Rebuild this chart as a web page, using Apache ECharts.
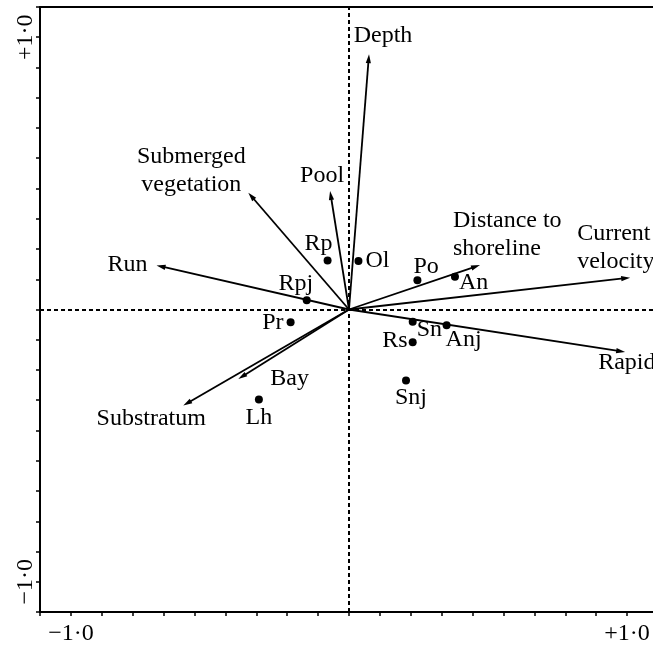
<!DOCTYPE html>
<html>
<head>
<meta charset="utf-8">
<script src="https://cdn.jsdelivr.net/npm/echarts@6/dist/echarts.min.js"></script>
<style>
html,body{margin:0;padding:0;background:#fff;}
#chart{width:653px;height:645px;}
</style>
</head>
<body>
<div id="chart"></div>
<script>
// ---- data ----
const axisMin = -10 / 9;
const axisMax = 10 / 9;
const tickStep = 1 / 9;
const tickLabelValues = [-1, 1];
const tickLabelTexts = ['\u22121\u00b70', '+1\u00b70'];

const vectorNames = ['Depth', 'Pool', 'Submerged\nvegetation', 'Run', 'Distance to\nshoreline',
  'Current\nvelocity', 'Rapid', 'Substratum', 'Bay'];
const vectorX = [0.072, -0.068, -0.362, -0.692, 0.471, 1.011, 0.993, -0.596, -0.398];
const vectorY = [0.938, 0.435, 0.429, 0.162, 0.163, 0.117, -0.156, -0.353, -0.255];

const siteNames = ['Rp', 'Ol', 'Rpj', 'Pr', 'Lh', 'Po', 'An', 'Sn', 'Anj', 'Rs', 'Snj'];
const siteX = [-0.077, 0.034, -0.152, -0.210, -0.324, 0.246, 0.381, 0.229, 0.351, 0.229, 0.205];
const siteY = [0.180, 0.178, 0.034, -0.047, -0.331, 0.107, 0.120, -0.045, -0.058, -0.120, -0.261];

// ---- label placement styles (pixel offsets from mark, alignment) ----
const vectorLabelStyle = {
  'Depth': [14, -18, 'center'],
  'Pool': [-8, -15, 'center'],
  'Submerged\nvegetation': [-57, -22, 'center'],
  'Run': [-9, -1, 'right'],
  'Distance to\nshoreline': [-27, -30, 'left'],
  'Current\nvelocity': [-53, -30, 'left'],
  'Rapid': [-27, 11, 'left'],
  'Substratum': [-32, 13, 'center'],
  'Bay': [32, 0, 'left']
};
const siteLabelStyle = {
  'Rp': [-9, -17, 'center'],
  'Ol': [7, 0, 'left'],
  'Rpj': [-11, -17, 'center'],
  'Pr': [-7, 0, 'right'],
  'Lh': [0, 18, 'center'],
  'Po': [-4, -14, 'left'],
  'An': [4, 6, 'left'],
  'Sn': [4, 8, 'left'],
  'Anj': [-1, 14, 'left'],
  'Rs': [-5, -1, 'right'],
  'Snj': [-11, 17, 'left']
};

const FONT = 'Liberation Serif, Times New Roman, serif';
const FS = 24;

const vectorData = vectorNames.map((n, i) => ({ name: n, value: [vectorX[i], vectorY[i]] }));
const siteData = siteNames.map((n, i) => ({ name: n, value: [siteX[i], siteY[i]] }));

function tickFmt(v) {
  for (let i = 0; i < tickLabelValues.length; i++) {
    if (Math.abs(v - tickLabelValues[i]) < 1e-6) return tickLabelTexts[i];
  }
  return '';
}

const chart = echarts.init(document.getElementById('chart'), null, { renderer: 'canvas' });

const option = {
  animation: false,
  backgroundColor: '#fff',
  grid: { left: 40, top: 7, width: 618, height: 605, containLabel: false, outerBoundsMode: 'none' },
  xAxis: [{
    type: 'value', min: axisMin, max: axisMax, interval: tickStep, position: 'bottom',
    axisLine: { show: true, onZero: false, lineStyle: { color: '#000', width: 2 } },
    axisTick: { show: true, length: 4, lineStyle: { color: '#000', width: 1.5 } },
    axisLabel: { show: true, interval: 0, formatter: tickFmt, color: '#000', fontFamily: FONT, fontSize: FS, margin: 10 },
    splitLine: { show: false }
  }, {
    type: 'value', min: axisMin, max: axisMax, position: 'top',
    axisLine: { show: true, onZero: false, lineStyle: { color: '#000', width: 2 } },
    axisTick: { show: false }, axisLabel: { show: false }, splitLine: { show: false }
  }],
  yAxis: [{
    type: 'value', min: axisMin, max: axisMax, interval: tickStep, position: 'left',
    axisLine: { show: true, onZero: false, lineStyle: { color: '#000', width: 2 } },
    axisTick: { show: true, length: 4, lineStyle: { color: '#000', width: 1.5 } },
    axisLabel: { show: true, interval: 0, rotate: 90, formatter: tickFmt, color: '#000', fontFamily: FONT, fontSize: FS, margin: 2 },
    splitLine: { show: false }
  }],
  series: [
    {
      type: 'scatter',
      data: siteData,
      symbol: 'circle',
      symbolSize: 8,
      itemStyle: { color: '#000', opacity: 1 },
      silent: true,
      markLine: {
        silent: true,
        symbol: ['none', 'none'],
        label: { show: false },
        lineStyle: { color: '#000', width: 2, type: [4, 3] },
        data: [{ xAxis: 0 }, { yAxis: 0 }]
      },
      z: 3
    },
    {
      type: 'custom',
      data: vectorData,
      silent: true,
      z: 4,
      renderItem: function (params, api) {
        const p0 = api.coord([0, 0]);
        const p1 = api.coord([api.value(0), api.value(1)]);
        const dx = p1[0] - p0[0], dy = p1[1] - p0[1];
        const len = Math.sqrt(dx * dx + dy * dy);
        const ux = dx / len, uy = dy / len;
        const hl = 9, hw = 2.6;
        const bx = p1[0] - ux * hl, by = p1[1] - uy * hl;
        const name = vectorData[params.dataIndex].name;
        const st = vectorLabelStyle[name];
        return {
          type: 'group',
          children: [
            { type: 'line', shape: { x1: p0[0], y1: p0[1], x2: bx + ux * 2, y2: by + uy * 2 },
              style: { stroke: '#000', lineWidth: 1.8 } },
            { type: 'polygon', shape: { points: [[p1[0], p1[1]], [bx - uy * hw, by + ux * hw], [bx + uy * hw, by - ux * hw]] },
              style: { fill: '#000' } },
            { type: 'text', x: p1[0] + st[0], y: p1[1] + st[1],
              style: { text: name, fill: '#000', font: FS + 'px ' + FONT, align: st[2], verticalAlign: 'middle', lineHeight: 28 } }
          ]
        };
      }
    },
    {
      type: 'custom',
      data: siteData,
      silent: true,
      z: 5,
      renderItem: function (params, api) {
        const p = api.coord([api.value(0), api.value(1)]);
        const name = siteData[params.dataIndex].name;
        const st = siteLabelStyle[name];
        return {
          type: 'text', x: p[0] + st[0], y: p[1] + st[1],
          style: { text: name, fill: '#000', font: FS + 'px ' + FONT, align: st[2], verticalAlign: 'middle' }
        };
      }
    }
  ]
};
chart.setOption(option);
</script>
</body>
</html>
